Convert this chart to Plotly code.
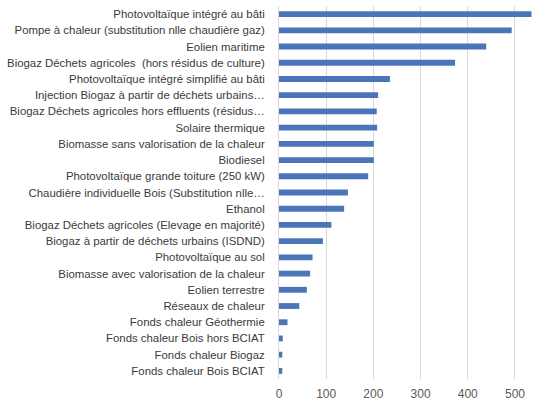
import plotly.graph_objects as go

# filières, de haut en bas
categories = [
    "Photovoltaïque intégré au bâti",
    "Pompe à chaleur (substitution nlle chaudière gaz)",
    "Eolien maritime",
    "Biogaz Déchets agricoles  (hors résidus de culture)",
    "Photovoltaïque intégré simplifié au bâti",
    "Injection Biogaz à partir de déchets urbains…",
    "Biogaz Déchets agricoles hors effluents (résidus…",
    "Solaire thermique",
    "Biomasse sans valorisation de la chaleur",
    "Biodiesel",
    "Photovoltaïque grande toiture (250 kW)",
    "Chaudière individuelle Bois (Substitution nlle…",
    "Ethanol",
    "Biogaz Déchets agricoles (Elevage en majorité)",
    "Biogaz à partir de déchets urbains (ISDND)",
    "Photovoltaïque au sol",
    "Biomasse avec valorisation de la chaleur",
    "Eolien terrestre",
    "Réseaux de chaleur",
    "Fonds chaleur Géothermie",
    "Fonds chaleur Bois hors BCIAT",
    "Fonds chaleur Biogaz",
    "Fonds chaleur Bois BCIAT",
]
values = [535, 493, 439, 373, 235, 210, 207, 208, 201, 201, 189, 146,
          138, 111, 93, 71, 66, 59, 43, 18, 8, 7, 7]
x_ticks = [0, 100, 200, 300, 400, 500]

fig = go.Figure()
fig.add_trace(go.Bar(
    x=values,
    y=categories,
    orientation="h",
    marker=dict(color="#4a76b9", line=dict(width=0)),
))

fig.update_layout(
    width=540,
    height=409,
    margin=dict(l=279, r=0, t=6, b=30),
    plot_bgcolor="white",
    paper_bgcolor="white",
    bargap=0.64,
    showlegend=False,
    font=dict(family="Liberation Sans", size=11.4, color="#3a3a3a"),
)
fig.update_xaxes(
    range=[0, 553],
    tickvals=x_ticks,
    showgrid=True,
    gridcolor="#d9d9d9",
    gridwidth=1,
    zeroline=False,
    tickfont=dict(size=12, color="#595959"),
    ticks="",
    ticklabelstandoff=6,
    automargin=False,
)
fig.update_yaxes(
    autorange="reversed",
    showline=True,
    linecolor="#d9d9d9",
    ticks="",
    ticklabelstandoff=11,
    automargin=False,
)

# pas de marge de page autour du graphique
fig.write_html("out.html", config={"displayModeBar": False},
               post_script="document.body.style.margin='0';")
